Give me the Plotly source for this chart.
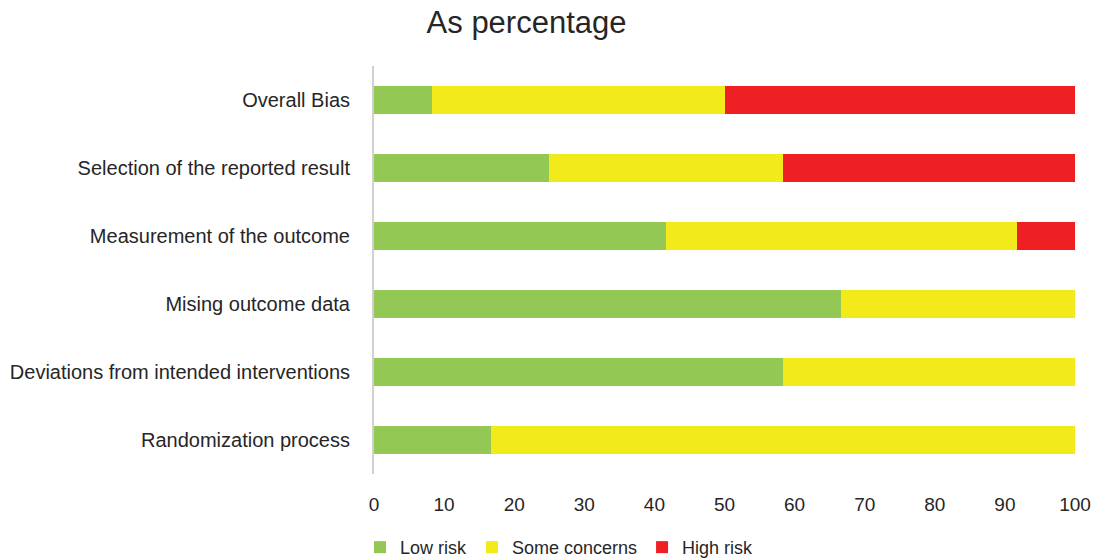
import plotly.graph_objects as go

categories = ["Randomization process", "Deviations from intended interventions", "Mising outcome data",
              "Measurement of the outcome", "Selection of the reported result", "Overall Bias"]
low_risk = [16.67, 58.33, 66.67, 41.67, 25.0, 8.33]
some_concerns = [83.33, 41.67, 33.33, 50.0, 33.33, 41.67]
high_risk = [0, 0, 0, 8.33, 41.67, 50.0]
x_ticks = [0, 10, 20, 30, 40, 50, 60, 70, 80, 90, 100]

font = "Liberation Sans"
txt = "#262626"
fig = go.Figure()
for name, vals, col in [("Low risk", low_risk, "#92C853"),
                        ("Some concerns", some_concerns, "#F2EA1A"),
                        ("High risk", high_risk, "#EE2024")]:
    fig.add_trace(go.Bar(y=categories, x=vals, name=name, orientation="h",
                         marker=dict(color=col, line=dict(width=0))))

fig.update_layout(
    barmode="stack", bargap=0.6,
    width=1097, height=559,
    margin=dict(l=374, r=22, t=66, b=85, autoexpand=False),
    plot_bgcolor="white", paper_bgcolor="white",
    title=dict(text="As percentage", x=0.48, xanchor="center", y=0.96, yanchor="middle",
               font=dict(family=font, size=31, color=txt)),
    legend=dict(orientation="h", x=-0.02, xanchor="left", y=-0.18, yanchor="middle",
                font=dict(family=font, size=18, color=txt), traceorder="normal",
                itemwidth=30),
    font=dict(family=font, color=txt),
)
fig.update_xaxes(range=[0, 100], tickvals=x_ticks, showgrid=False, zeroline=False,
                 showline=False, tickfont=dict(size=19), ticklabelstandoff=17)
fig.update_yaxes(showgrid=False, showline=True, linecolor="#D0D0D0", linewidth=2,
                 tickfont=dict(size=20), ticklabelstandoff=18)
fig.write_html("out.html")
